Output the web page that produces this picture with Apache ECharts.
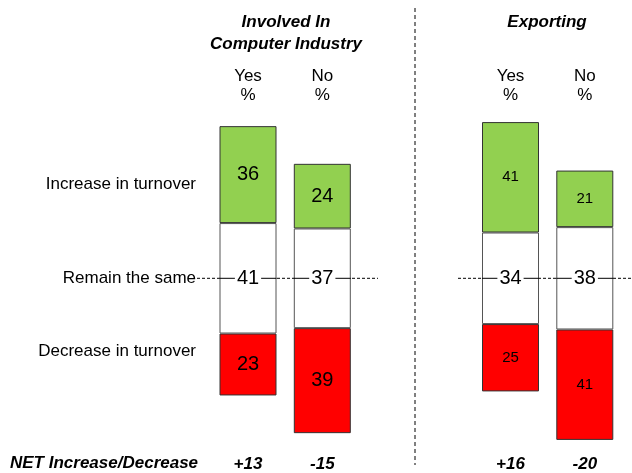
<!DOCTYPE html>
<html><head><meta charset="utf-8">
<script src="https://cdn.jsdelivr.net/npm/echarts@6/dist/echarts.min.js"></script>
<style>html,body{margin:0;padding:0;background:#fff}#c{width:632px;height:473px}</style>
</head><body><div id="c"></div>
<script>
var groupTitles = ['Involved In\nComputer Industry', 'Exporting'];
var answers = ['Yes', 'No'];
var rowLabels = ['Increase in turnover', 'Remain the same', 'Decrease in turnover'];
var netLabel = 'NET Increase/Decrease';
// [computer Yes, computer No], [exporting Yes, exporting No]
var increase = [[36, 24], [41, 21]];
var remain   = [[41, 37], [34, 38]];
var decrease = [[23, 39], [25, 41]];

var CENTER = 60;
var FONT = "'Liberation Sans', Arial, sans-serif";
var GREEN = '#92D050', RED = '#FF0000';

var grids = [
  {left: 210.85, width: 148.6, top: 116.7, bottom: 33.1},
  {left: 473.35, width: 148.6, top: 116.7, bottom: 33.1}
];
var xAxes = [], yAxes = [], series = [];
grids.forEach(function (g, gi) {
  var nets = increase[gi].map(function (v, i) {
    var n = v - decrease[gi][i];
    return (n > 0 ? '+' : '') + n;
  });
  xAxes.push({
    gridIndex: gi, type: 'category', data: answers, position: 'top',
    axisLine: {show: false}, axisTick: {show: false}, splitLine: {show: false},
    axisLabel: {formatter: function (v) { return v + '\n%'; }, fontFamily: FONT, fontSize: 17, lineHeight: 19, color: '#000', margin: 12}
  });
  xAxes.push({
    gridIndex: gi, type: 'category', data: nets, position: 'bottom',
    axisLine: {show: false}, axisTick: {show: false}, splitLine: {show: false},
    axisLabel: {fontFamily: FONT, fontSize: 17, fontWeight: 'bold', fontStyle: 'italic', color: '#000', margin: 16}
  });
  yAxes.push({gridIndex: gi, type: 'value', min: 0, max: 120, show: false, splitLine: {show: false}});
  var base = remain[gi].map(function (w, i) { return CENTER - decrease[gi][i] - w / 2; });
  var lblSize = gi === 0 ? 20 : 15;
  var stack = 's' + gi;
  series.push({type: 'bar', xAxisIndex: gi * 2, yAxisIndex: gi, stack: stack, barWidth: 57, data: base,
    itemStyle: {color: 'transparent'}, silent: true, z: 2});
  series.push({type: 'bar', xAxisIndex: gi * 2, yAxisIndex: gi, stack: stack, barWidth: 57, data: decrease[gi],
    itemStyle: {color: RED, borderColor: '#333', borderWidth: 1},
    label: {show: true, position: 'inside', color: '#000', fontFamily: FONT, fontSize: lblSize}, z: 2});
  series.push({type: 'bar', xAxisIndex: gi * 2, yAxisIndex: gi, stack: stack, barWidth: 57, data: remain[gi],
    itemStyle: {color: '#fff', borderColor: '#555', borderWidth: 1}, z: 2});
  series.push({type: 'bar', xAxisIndex: gi * 2, yAxisIndex: gi, stack: stack, barWidth: 57, data: increase[gi],
    itemStyle: {color: GREEN, borderColor: '#333', borderWidth: 1},
    label: {show: true, position: 'inside', color: '#000', fontFamily: FONT, fontSize: lblSize}, z: 2});
  series.push({type: 'custom', xAxisIndex: gi * 2, yAxisIndex: gi, z: 5,
    data: remain[gi].map(function (w, i) { return [i, CENTER, w]; }),
    renderItem: function (params, api) {
      var p = api.coord([api.value(0), api.value(1)]);
      var hw = 28.5;
      return {type: 'group', children: [
        {type: 'line', shape: {x1: p[0] - hw, y1: p[1], x2: p[0] + hw, y2: p[1]}, style: {stroke: '#000', lineWidth: 1}},
        {type: 'text', style: {text: String(api.value(2)), x: p[0], y: p[1], align: 'center', verticalAlign: 'middle',
          font: '20px ' + FONT, fill: '#000', backgroundColor: '#fff', padding: [0, 2]}}
      ]};
    }
  });
});

var chart = echarts.init(document.getElementById('c'));
chart.setOption({
  animation: false,
  backgroundColor: '#fff',
  grid: grids, xAxis: xAxes, yAxis: yAxes, series: series
});
var cy = chart.convertToPixel({gridIndex: 0}, [0, CENTER])[1];
var txt = function (t, x, y, align, extra) {
  var s = {text: t, x: x, y: y, align: align, verticalAlign: 'middle', font: '17px ' + FONT, fill: '#000'};
  if (extra) for (var k in extra) s[k] = extra[k];
  return {type: 'text', style: s, z: 10};
};
chart.setOption({
  graphic: [
    {type: 'line', shape: {x1: 415, y1: 8, x2: 415, y2: 465}, style: {stroke: '#000', lineWidth: 1, lineDash: [4, 3]}, z: 0},
    {type: 'line', shape: {x1: 197, y1: cy, x2: 378, y2: cy}, style: {stroke: '#000', lineWidth: 1, lineDash: [3, 2]}, z: 0},
    {type: 'line', shape: {x1: 458, y1: cy, x2: 632, y2: cy}, style: {stroke: '#000', lineWidth: 1, lineDash: [3, 2]}, z: 0},
    txt(groupTitles[0], 286, 33, 'center', {font: 'italic bold 17px ' + FONT, lineHeight: 22}),
    txt(groupTitles[1], 547, 22, 'center', {font: 'italic bold 17px ' + FONT}),
    txt(rowLabels[0], 196, 184, 'right'),
    txt(rowLabels[1], 196, cy, 'right'),
    txt(rowLabels[2], 196, 351, 'right'),
    txt(netLabel, 10, 463, 'left', {font: 'italic bold 17px ' + FONT})
  ]
});
</script></body></html>
